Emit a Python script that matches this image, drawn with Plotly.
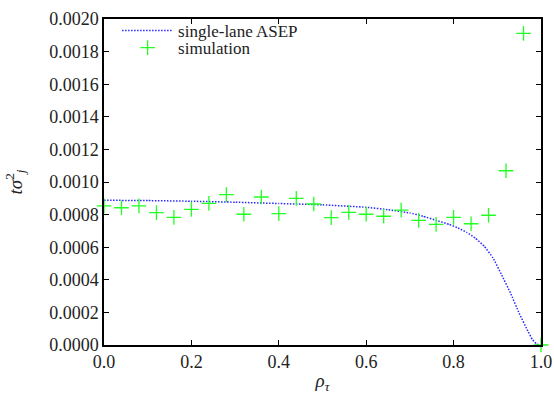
import plotly.graph_objects as go

# simulation data
sim_rho = [0.00, 0.04, 0.08, 0.12, 0.16, 0.20, 0.24, 0.28, 0.32, 0.36, 0.40, 0.44, 0.48,
           0.52, 0.56, 0.60, 0.64, 0.68, 0.72, 0.76, 0.80, 0.84, 0.88, 0.92, 0.96, 1.00]
sim_var = [0.000853, 0.000842, 0.000853, 0.000812, 0.000783, 0.000832, 0.000869, 0.000922,
           0.000802, 0.000908, 0.000806, 0.000900, 0.000865, 0.000781, 0.000814, 0.000802,
           0.000790, 0.000828, 0.000765, 0.000740, 0.000783, 0.000744, 0.000796, 0.001069,
           0.001912, 0.000000]

# single-lane ASEP curve
asep_rho = [0.0, 0.1, 0.2, 0.3, 0.4, 0.5, 0.6, 0.65, 0.7, 0.73, 0.76, 0.79, 0.81, 0.83,
            0.85, 0.87, 0.89, 0.91, 0.93, 0.95, 0.97, 0.98, 0.99, 1.0]
asep_var = [0.000888, 0.000886, 0.000882, 0.000876, 0.000868, 0.000860, 0.000845, 0.000830,
            0.000810, 0.000790, 0.000765, 0.000740, 0.000718, 0.000691, 0.000655, 0.000606,
            0.000535, 0.000430, 0.000320, 0.000195, 0.000085, 0.000035, 0.000006, 0.0]

x_ticks = [0.0, 0.2, 0.4, 0.6, 0.8, 1.0]
y_ticks = [0.0000, 0.0002, 0.0004, 0.0006, 0.0008, 0.0010, 0.0012, 0.0014, 0.0016, 0.0018, 0.0020]

FONT = "Liberation Serif"
TXT = "#222222"

fig = go.Figure()
fig.add_trace(go.Scatter(
    x=asep_rho, y=asep_var, mode="lines", name="single-lane ASEP", legend="legend",
    line=dict(color="#2a2aff", width=1.5, dash="1.5px,1.5px", shape="spline", smoothing=0.3),
    cliponaxis=False,
))
fig.add_trace(go.Scatter(
    x=sim_rho, y=sim_var, mode="markers", name="simulation", legend="legend2",
    marker=dict(symbol="cross-thin", size=10.5, line=dict(color="#22ff22", width=1.3), color="#22ff22"),
    cliponaxis=False,
))

axis_common = dict(
    showline=True, linecolor="black", linewidth=1.5, mirror="ticks",
    ticks="inside", ticklen=5, tickwidth=1.3, tickcolor="black",
    showgrid=False, zeroline=False, automargin=False,
    tickfont=dict(family=FONT, size=18, color=TXT),
)

legend_common = dict(xanchor="left", yanchor="middle", bgcolor="rgba(0,0,0,0)",
                     font=dict(family=FONT, size=17, color=TXT), itemwidth=51,
                     borderwidth=0)

fig.update_layout(
    width=554, height=394,
    margin=dict(l=104, r=13, t=19, b=49, autoexpand=False),
    paper_bgcolor="white", plot_bgcolor="white",
    font=dict(family=FONT, size=18, color=TXT),
    showlegend=True,
    legend=dict(x=0.03, y=0.963, **legend_common),
    legend2=dict(x=0.03, y=0.911, **legend_common),
    xaxis=dict(range=[0, 1], tickvals=x_ticks, ticktext=[f"{v:.1f}" for v in x_ticks],
               title=dict(text="<i>ρ<sub>τ</sub></i>", standoff=4,
                          font=dict(family=FONT, size=19, color=TXT)),
               **axis_common),
    yaxis=dict(range=[0, 0.002], tickvals=y_ticks, ticktext=[f"{v:.4f}" for v in y_ticks],
               title=dict(text="<i>tσ</i><sup>2</sup><sub><i>j</i></sub>", standoff=22,
                          font=dict(family=FONT, size=19, color=TXT)),
               **axis_common),
)

fig.write_html("out.html")
